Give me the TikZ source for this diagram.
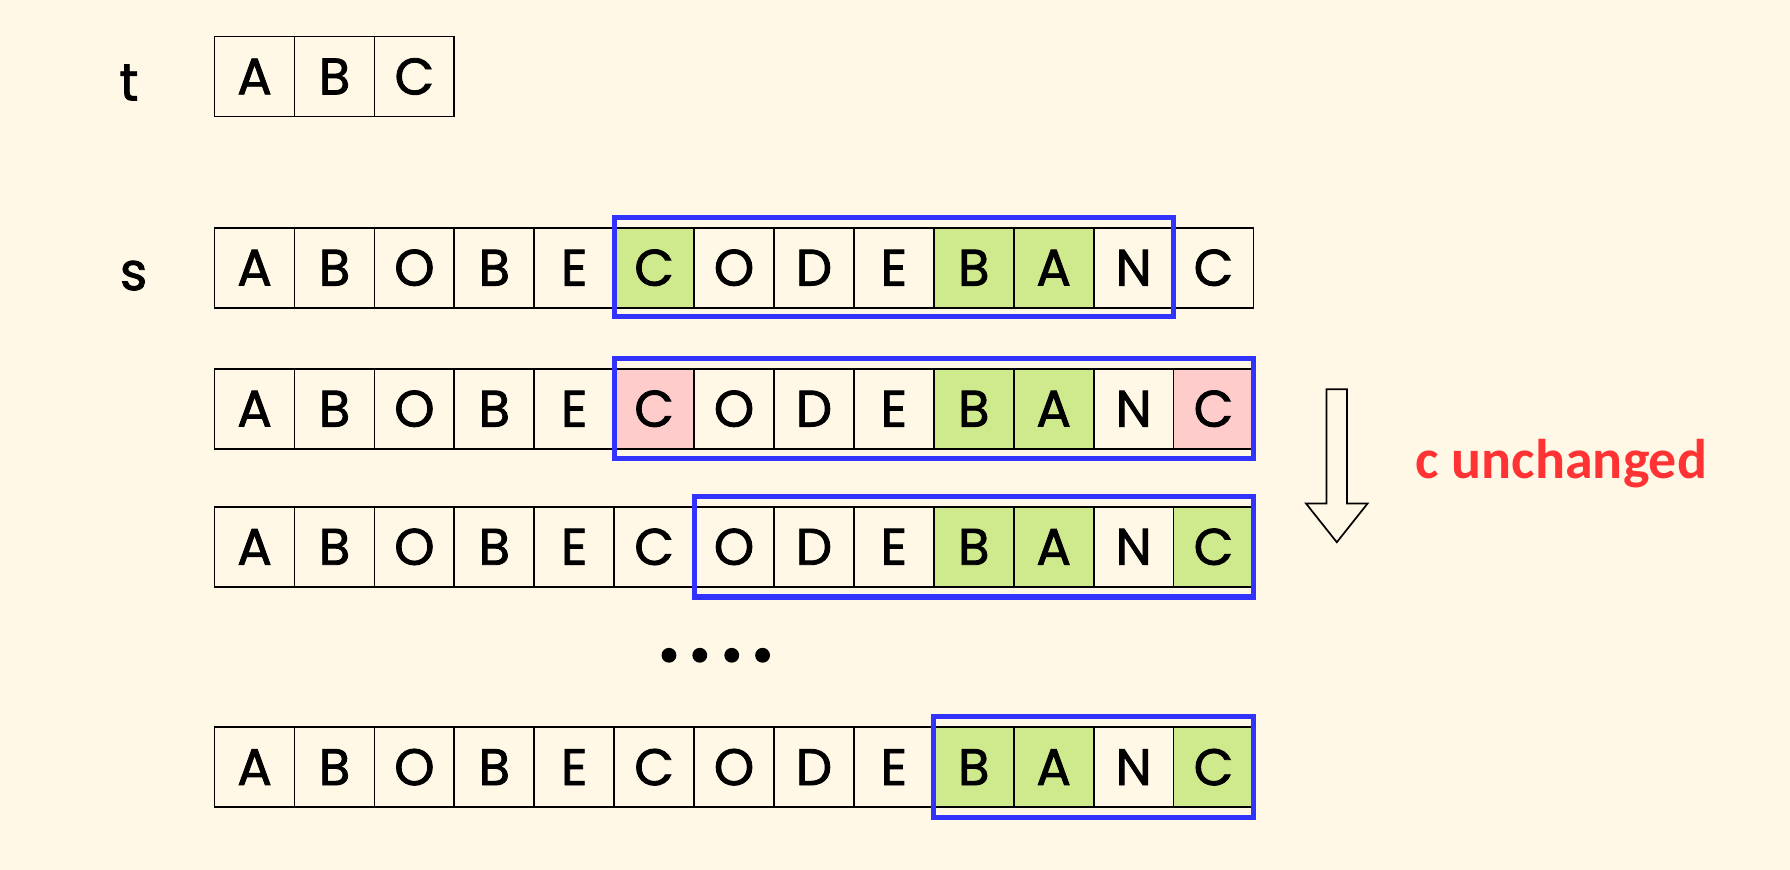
\documentclass[tikz,border=0pt]{standalone}
\usepackage{fontspec}
\setmainfont{Poppins}
\newfontfamily\cellfont{Poppins}[FakeBold=1.6]
\newfontfamily\redfont{Carlito}
\definecolor{bg}{HTML}{FFF8E6}
\definecolor{gr}{HTML}{CFEA8C}
\definecolor{pk}{HTML}{FFCCCC}
\definecolor{bl}{HTML}{3333FF}
\definecolor{rd}{HTML}{FF3333}
\begin{document}
\begin{tikzpicture}[x=1pt,y=-1pt,
  cell/.style={draw=black, line width=1.5pt, minimum width=70pt, minimum height=70pt,
    inner sep=0pt, outer sep=0pt, font=\cellfont\fontsize{45}{45}\selectfont, fill=bg},
  plain/.style={},
  grn/.style={fill=gr},
  pnk/.style={fill=pk},
  win/.style={draw=bl, line width=4.5pt},
  lbl/.style={font=\cellfont\fontsize{46}{46}\selectfont, anchor=base, inner sep=0pt},
  dotn/.style={circle, fill=black, inner sep=0pt, minimum size=13pt}]
\fill[bg] (0,0) rectangle (1568,762);
\useasboundingbox (0,0) rectangle (1568,762);
% labels
\node[lbl] (lt) at (113,88) {t};
\node[lbl] (ls) at (117,254) {s};
% t row
\foreach \i/\l in {1/A,2/B,3/C}
  \node[cell] (t\i) at (153+70*\i,67) {\l};
% row 1
\foreach \i/\l/\s in {1/A/plain,2/B/plain,3/O/plain,4/B/plain,5/E/plain,6/C/grn,7/O/plain,8/D/plain,9/E/plain,10/B/grn,11/A/grn,12/N/plain,13/C/plain}
  \node[cell,\s] (ra\i) at (153+70*\i,234.5) {\l};
% row 2
\foreach \i/\l/\s in {1/A/plain,2/B/plain,3/O/plain,4/B/plain,5/E/plain,6/C/pnk,7/O/plain,8/D/plain,9/E/plain,10/B/grn,11/A/grn,12/N/plain,13/C/pnk}
  \node[cell,\s] (rb\i) at (153+70*\i,358) {\l};
% row 3
\foreach \i/\l/\s in {1/A/plain,2/B/plain,3/O/plain,4/B/plain,5/E/plain,6/C/plain,7/O/plain,8/D/plain,9/E/plain,10/B/grn,11/A/grn,12/N/plain,13/C/grn}
  \node[cell,\s] (rc\i) at (153+70*\i,479) {\l};
% row 4
\foreach \i/\l/\s in {1/A/plain,2/B/plain,3/O/plain,4/B/plain,5/E/plain,6/C/plain,7/O/plain,8/D/plain,9/E/plain,10/B/grn,11/A/grn,12/N/plain,13/C/grn}
  \node[cell,\s] (rd\i) at (153+70*\i,672) {\l};
% windows
\draw[win] ([yshift=9pt]ra6.north west) rectangle ([yshift=-8pt]ra12.south east);
\draw[win] ([yshift=9pt]rb6.north west) rectangle ([yshift=-9pt]rb13.south east);
\draw[win] ([yshift=9pt]rc7.north west) rectangle ([yshift=-9pt]rc13.south east);
\draw[win] ([yshift=9pt]rd10.north west) rectangle ([yshift=-9pt]rd13.south east);
% dots
\foreach \k/\x in {1/586,2/613,3/641,4/668}
  \node[dotn] (dot\k) at (\x,574) {};
% arrow
\draw[line width=1.5pt, fill=bg, line join=miter]
  (1162,341) -- (1180,341) -- (1180,441) -- (1198,441) -- (1171,475) -- (1144,441) -- (1162,441) -- cycle;
% note
\node[anchor=base west, inner sep=0pt, text=rd, font=\redfont\bfseries\fontsize{49}{49}\selectfont] (note) at (1240,419) {c unchanged};
\end{tikzpicture}
\end{document}
